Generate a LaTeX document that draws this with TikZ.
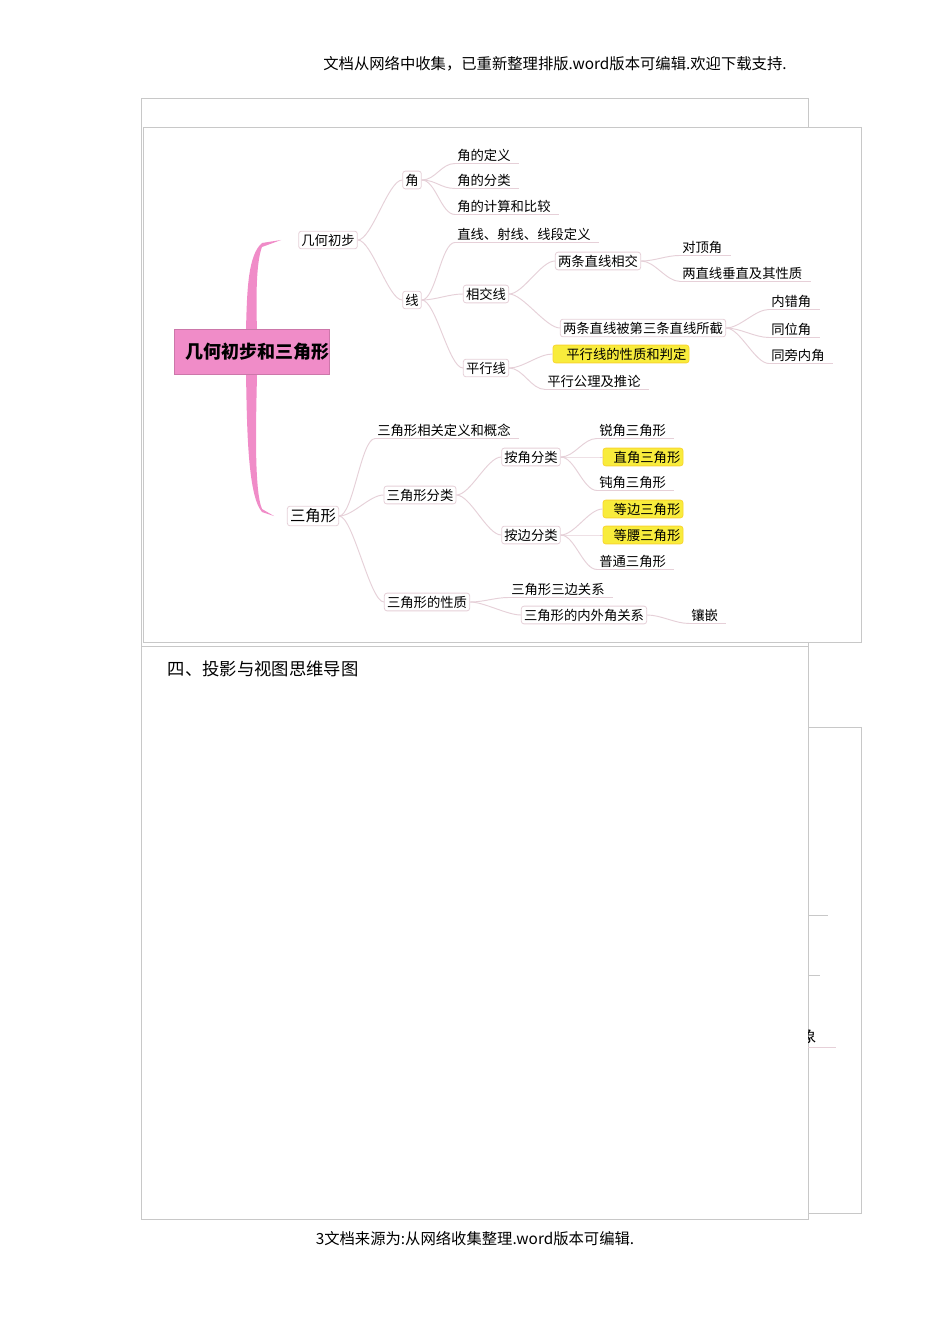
\documentclass[tikz,border=0pt]{standalone}
\usepackage{fontspec}
\setmainfont{Noto Sans CJK SC}
\usetikzlibrary{calc}
\definecolor{lnk}{HTML}{E6D0D8}
\definecolor{frm}{HTML}{C8C8C8}
\definecolor{mpink}{HTML}{F08CC8}
\definecolor{hyel}{HTML}{F8EC3C}
\tikzset{
  mm/.style={font=\fontsize{10}{12}\selectfont},
  bx/.style={mm,draw=lnk,rounded corners=2pt,inner sep=2pt,line width=0.6pt},
  yb/.style={bx,fill=hyel,draw=hyel!80!orange},
  lf/.style={mm,anchor=west,inner sep=1.5pt},
  conn/.style={draw=lnk,line width=0.7pt},
}
\newcommand\ul[1]{\draw[conn] (#1.south west) -- ($(#1.south east)+(6,0)$);}
\newcommand\cn[2]{\draw[conn] (#1.east) .. controls ($(#1.east)+(14,0)$) and ($(#2)+(-14,0)$) .. (#2);}
\begin{document}
\begin{tikzpicture}[x=0.75pt,y=-0.75pt]
\useasboundingbox (0,0) rectangle (950,1344);
\fill[white] (0,0) rectangle (950,1344);
% header / footer
\node[font=\fontsize{11.5}{13}\selectfont] (hdr) at (555,64) {文档从网络中收集，已重新整理排版.word版本可编辑.欢迎下载支持.};
\node[font=\fontsize{11.5}{13}\selectfont] (ftr) at (475,1239) {3文档来源为:从网络收集整理.word版本可编辑.};
% frames
\draw[frm,line width=0.6pt] (141,98) rectangle (808,1219);
\draw[frm,line width=0.6pt] (808,727) rectangle (861,1213);
\fill[white] (143,127) rectangle (861,642);
\draw[frm,line width=0.6pt] (143,127) rectangle (861,642);
\draw[frm,line width=0.6pt] (141,646) -- (808,646);
\node[anchor=west,font=\fontsize{13}{15}\selectfont] (sec) at (163,669) {四、投影与视图思维导图};
\draw[frm] (808,915) -- (828,915);
\draw[frm] (808,975) -- (820,975);
\begin{scope}
\clip (808,1020) rectangle (840,1050);
\node[anchor=west,font=\fontsize{12}{14}\selectfont,inner sep=0] (xiang) at (800,1036) {象};
\end{scope}
\draw[conn] (808,1047) -- (836,1047);
% trunk
\fill[mpink] (246,330) .. controls (247,290) and (248,255) .. (262,243) -- (281,240) -- (262,247) .. controls (256,262) and (256,300) .. (257,330) -- cycle;
\fill[mpink] (246,375) .. controls (247,420) and (247,495) .. (262,512) -- (274,516) -- (262,509) .. controls (254,490) and (256,420) .. (257,375) -- cycle;
% central
\node[fill=mpink,draw=mpink!85!black,line width=0.3pt,inner sep=0,font=\fontsize{13.5}{15}\selectfont\bfseries] (root) at (252,352) {\rule[-12pt]{0pt}{34pt}\hspace{8pt}几何初步和三角形\hspace{8pt}};
% level 1
\node[bx] (jh) at (328,240) {几何初步};
\node[bx] (sjx) at (313,516) {\fontsize{11.5}{13}\selectfont 三角形};
% 角
\node[bx] (jiao) at (412,180) {角};
\node[lf] (j1) at (455,155) {角的定义}; \ul{j1}
\node[lf] (j2) at (455,180) {角的分类}; \ul{j2}
\node[lf] (j3) at (455,206) {角的计算和比较}; \ul{j3}
\cn{jh}{jiao.west}
\cn{jiao}{j1.south west}\cn{jiao}{j2.south west}\cn{jiao}{j3.south west}
% 线
\node[bx] (xian) at (412,300) {线};
\cn{jh}{xian.west}
\node[lf] (x1) at (455,234) {直线、射线、线段定义}; \ul{x1}
\node[bx] (xjx) at (486,294) {相交线};
\node[bx] (pxx) at (486,368) {平行线};
\cn{xian}{x1.south west}\cn{xian}{xjx.west}\cn{xian}{pxx.west}
\node[bx] (lxj) at (598,261) {两条直线相交};
\node[bx] (lbj) at (643,328) {两条直线被第三条直线所截};
\cn{xjx}{lxj.west}\cn{xjx}{lbj.west}
\node[lf] (d1) at (680,247) {对顶角}; \ul{d1}
\node[lf] (d2) at (680,273) {两直线垂直及其性质}; \ul{d2}
\cn{lxj}{d1.south west}\cn{lxj}{d2.south west}
\node[lf] (n1) at (769,301) {内错角}; \ul{n1}
\node[lf] (n2) at (769,329) {同位角}; \ul{n2}
\node[lf] (n3) at (769,355) {同旁内角}; \ul{n3}
\cn{lbj}{n1.south west}\cn{lbj}{n2.south west}\cn{lbj}{n3.south west}
\node[yb] (p1) at (621,354) {\hspace{8pt}平行线的性质和判定\hspace{6pt}};
\node[lf] (p2) at (545,381) {平行公理及推论}; \ul{p2}
\cn{pxx}{p1.west}\cn{pxx}{p2.south west}
% 三角形
\node[lf] (t1) at (375,430) {三角形相关定义和概念}; \ul{t1}
\node[bx] (tfl) at (420,495) {三角形分类};
\node[bx] (txz) at (427,602) {三角形的性质};
\cn{sjx}{t1.south west}\cn{sjx}{tfl.west}\cn{sjx}{txz.west}
\node[bx] (ajf) at (531,457) {按角分类};
\node[bx] (abf) at (531,535) {按边分类};
\cn{tfl}{ajf.west}\cn{tfl}{abf.west}
\node[lf] (a1) at (597,430) {锐角三角形}; \ul{a1}
\node[yb] (a2) at (643,457) {\hspace{6pt}直角三角形\hspace{6pt}};
\node[lf] (a3) at (597,482) {钝角三角形}; \ul{a3}
\cn{ajf}{a1.south west}\cn{ajf}{a2.west}\cn{ajf}{a3.south west}
\node[yb] (b1) at (643,509) {\hspace{6pt}等边三角形\hspace{6pt}};
\node[yb] (b2) at (643,535) {\hspace{6pt}等腰三角形\hspace{6pt}};
\node[lf] (b3) at (597,561) {普通三角形}; \ul{b3}
\cn{abf}{b1.west}\cn{abf}{b2.west}\cn{abf}{b3.south west}
\node[lf] (s1) at (509,589) {三角形三边关系}; \ul{s1}
\node[bx] (s2) at (584,615) {三角形的内外角关系};
\cn{txz}{s1.south west}\cn{txz}{s2.west}
\node[lf] (s3) at (689,615) {镶嵌}; \ul{s3}
\cn{s2}{s3.south west}
\end{tikzpicture}
\end{document}
